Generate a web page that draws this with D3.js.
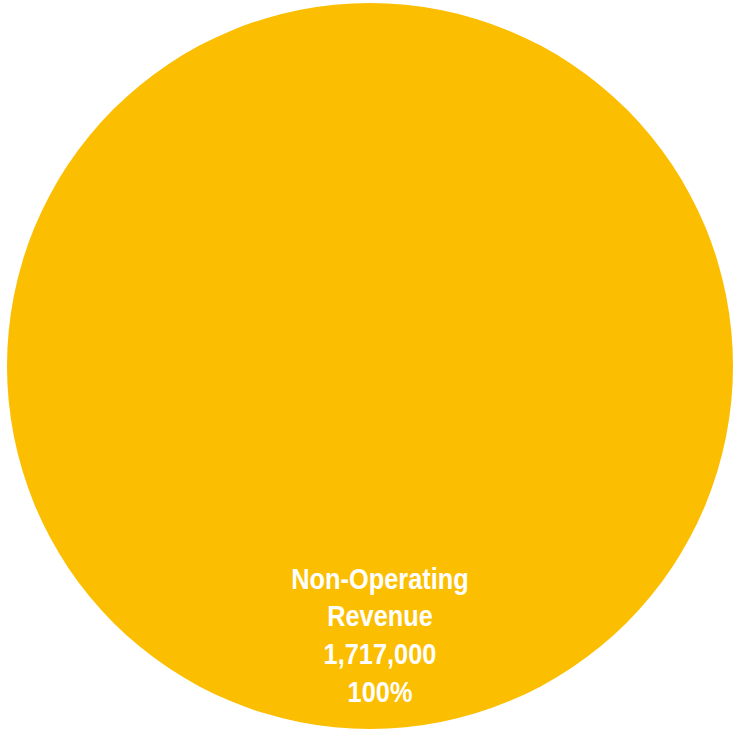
<!DOCTYPE html>
<html>
<head>
<meta charset="utf-8">
<script src="https://cdn.jsdelivr.net/npm/d3@7"></script>
<style>
  html, body { margin: 0; padding: 0; background: #ffffff; }
  svg { display: block; }
</style>
</head>
<body>
<svg id="chart" width="736" height="732"></svg>
<script>
// Revenue breakdown
const categories = ["Non-Operating Revenue"];
const labelLines = [["Non-Operating", "Revenue"]];
const values = [1717000];
const colors = ["#FCBE00"];

const width = 736, height = 732;
const cx = 370, cy = 366, radius = 363;

const svg = d3.select("#chart");
const g = svg.append("g").attr("transform", `translate(${cx},${cy})`);

const total = d3.sum(values);
const pie = d3.pie().sort(null).value(d => d);
const arcs = pie(values);

const arc = d3.arc().innerRadius(0).outerRadius(radius);
const labelArc = d3.arc().innerRadius(radius * 0.77).outerRadius(radius * 0.77);

g.selectAll("path.slice")
  .data(arcs)
  .join("path")
  .attr("class", "slice")
  .attr("d", arc)
  .attr("fill", (d, i) => colors[i]);

const fmt = d3.format(",");
const pct = d3.format(".0%");

// Condensed bold label, narrowed horizontally
const labels = g.selectAll("text.label")
  .data(arcs)
  .join("text")
  .attr("class", "label")
  .attr("transform", d => {
    const [x, y] = labelArc.centroid(d);
    return `translate(${x + 10},${y - 57}) scale(0.86,1)`;
  })
  .attr("text-anchor", "middle")
  .attr("fill", "#ffffff")
  .attr("font-family", "'Liberation Sans', Arial, sans-serif")
  .attr("font-weight", "bold")
  .attr("font-size", 29.5);

labels.each(function(d, i) {
  const lines = [...labelLines[i], fmt(d.value), pct(d.value / total)];
  d3.select(this).selectAll("tspan")
    .data(lines)
    .join("tspan")
    .attr("x", 0)
    .attr("dy", (t, j) => j === 0 ? 0 : 37.7)
    .text(t => t);
});
</script>
</body>
</html>
